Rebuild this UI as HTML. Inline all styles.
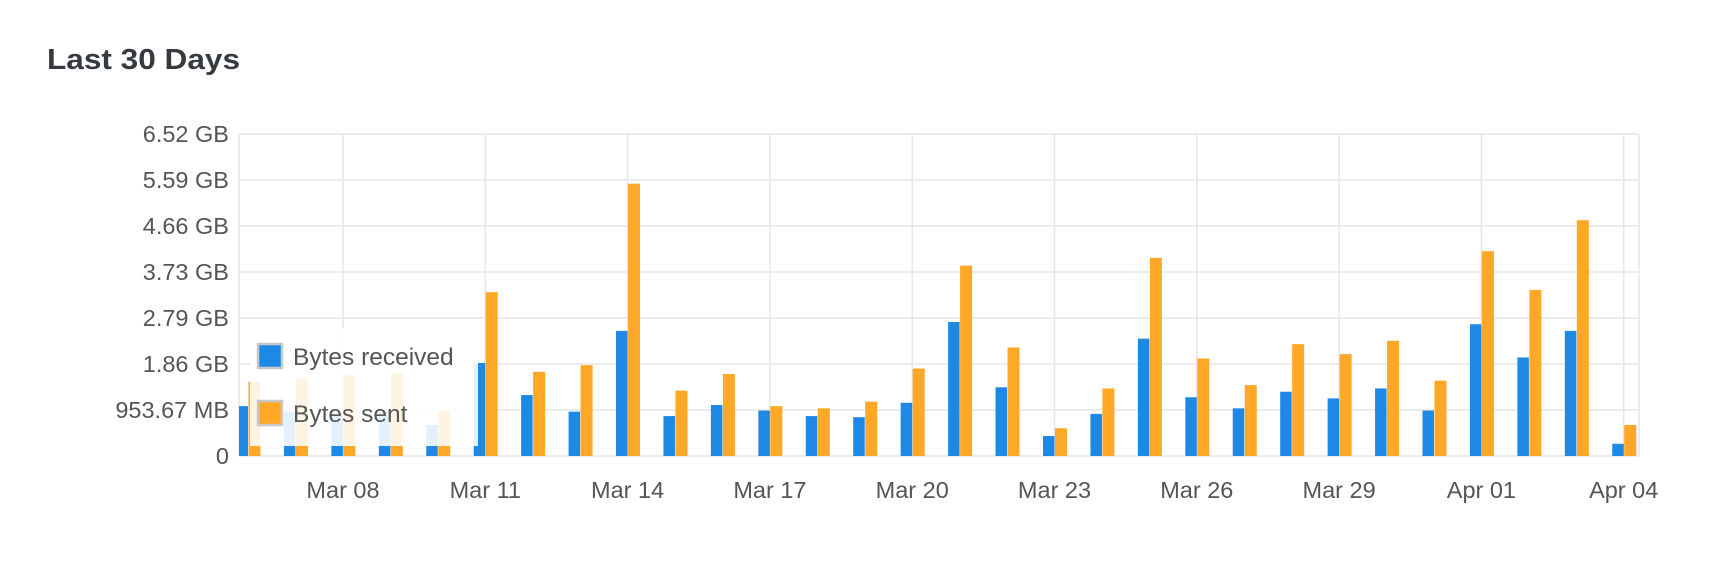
<!DOCTYPE html>
<html><head><meta charset="utf-8"><style>
html,body{margin:0;padding:0;background:#fff;}
svg{display:block;font-family:"Liberation Sans",sans-serif;}
</style></head><body>
<svg width="1734" height="568" viewBox="0 0 1734 568" xmlns="http://www.w3.org/2000/svg">
<text x="47" y="69" font-size="29" font-weight="bold" fill="#343a40" textLength="193" lengthAdjust="spacingAndGlyphs">Last 30 Days</text>
<g id="grid" stroke="#e6e6e6" stroke-width="1.5"></g>
<g id="bars"></g>
<rect x="250" y="328" width="228" height="118" fill="#fff" opacity="0.88"/>
<g id="labels" font-size="23.5" fill="#555"></g>
<rect x="258" y="344" width="24" height="24" fill="#1e88e5" stroke="#c8c8c8" stroke-width="2.5"/>
<text x="293" y="365" font-size="24.5" fill="#555">Bytes received</text>
<rect x="258" y="401" width="24" height="24" fill="#ffa726" stroke="#c8c8c8" stroke-width="2.5"/>
<text x="293" y="422" font-size="24.5" fill="#555">Bytes sent</text>
<script>
var NS="http://www.w3.org/2000/svg";
function el(p,t,a,txt){var e=document.createElementNS(NS,t);for(var k in a)e.setAttribute(k,a[k]);if(txt)e.textContent=txt;p.appendChild(e);return e;}
var L=239,R=1639,T=134,B=456;
var g=document.getElementById('grid'),lb=document.getElementById('labels'),bg=document.getElementById('bars');
var yl=["0","953.67 MB","1.86 GB","2.79 GB","3.73 GB","4.66 GB","5.59 GB","6.52 GB"];
for(var k=0;k<8;k++){var y=B-k*(B-T)/7;el(g,'line',{x1:L,x2:R,y1:y,y2:y});el(lb,'text',{x:229,y:y+8,'text-anchor':'end'},yl[k]);}
el(g,'line',{x1:L,x2:L,y1:T,y2:B});el(g,'line',{x1:R,x2:R,y1:T,y2:B});
var xl=["Mar 08","Mar 11","Mar 14","Mar 17","Mar 20","Mar 23","Mar 26","Mar 29","Apr 01","Apr 04"];
for(var i=0;i<10;i++){var x=343+i*142.3;el(g,'line',{x1:x,x2:x,y1:T,y2:B});el(lb,'text',{x:x,y:498,'text-anchor':'middle'},xl[i]);}
var d=[[367,345],[372,342],[374,339],[372,337],[384,371],[328,264],[357,336],[372,330],[299,166],[376,353],[366,338],[371,367],[376,369],[377,363],[364,333],[291,240],[350,314],[394,387],[374,351],[306,233],[359,324],[369,348],[354,311],[360,320],[351,308],[371,344],[293,227],[323,262],[299,199],[401,384]];
for(var j=0;j<30;j++){var gx=248+j*47.44;var bt=d[j][0]*1.1066,ot=d[j][1]*1.1066;
var bx=Math.max(gx-11.5,L);el(bg,'rect',{x:bx,y:bt,width:gx-bx,height:B-bt,fill:'#1e88e5'});
el(bg,'rect',{x:gx+0.5,y:ot,width:12,height:B-ot,fill:'#ffa726'});}
</script>
</svg>
</body></html>
